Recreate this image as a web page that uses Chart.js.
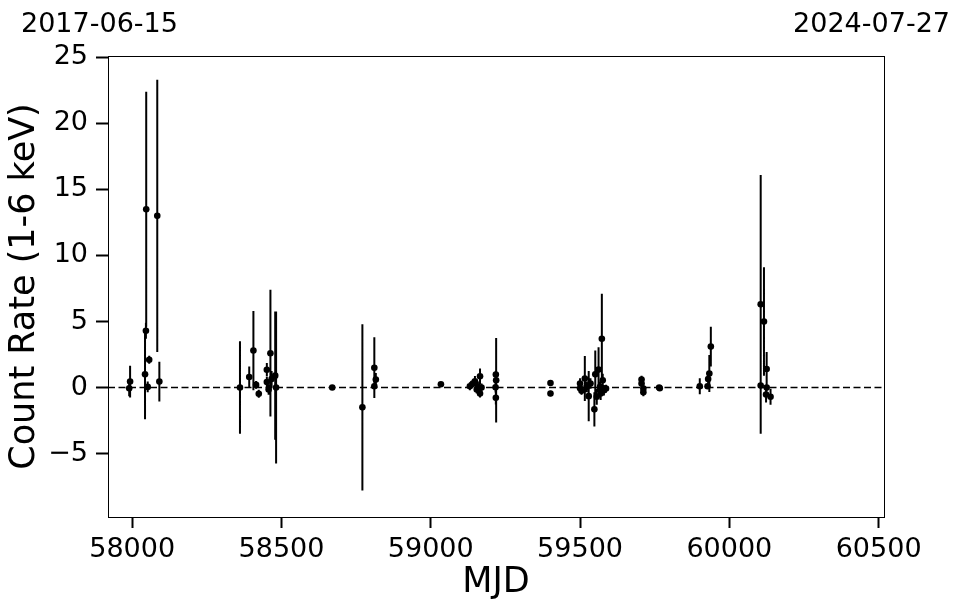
<!DOCTYPE html>
<html>
<head>
<meta charset="utf-8">
<script src="https://cdn.jsdelivr.net/npm/chart.js@4.4.1/dist/chart.umd.min.js"></script>
<style>
  html, body { margin: 0; padding: 0; background: #fff; }
  #wrap { position: relative; width: 962px; height: 613px; }
  .date { position: absolute; top: 9px; font: 27px 'DejaVu Sans'; line-height: 27px; color: #000; white-space: nowrap; }
</style>
</head>
<body>
<div id="wrap">
  <canvas id="lc" width="962" height="613"></canvas>
  <div class="date" style="left:21px">2017-06-15</div>
  <div class="date" style="right:12px">2024-07-27</div>
</div>
<script>
// light curve points: MJD, count rate (1-6 keV), 1-sigma error
const MJD = [
    57990, 57993, 58043, 58046, 58047, 58052, 58057, 58084, 58091,
    58361, 58392, 58406, 58415, 58424, 58451, 58451, 58457, 58463, 58467, 58479, 58482,
    58670, 58771, 58811, 58811, 58816,
    59034, 59131, 59141, 59148, 59154, 59158, 59165, 59165, 59170,
    59217, 59218, 59219, 59218, 59401, 59401,
    59500, 59500, 59505, 59516, 59522, 59529, 59535, 59548, 59551, 59556,
    59562, 59567, 59569, 59573, 59576, 59580, 59587,
    59706, 59706, 59712, 59712, 59765, 59767,
    59901, 59927, 59929, 59933, 59938,
    60105, 60105, 60116, 60123, 60125, 60125, 60138
];
const RATE = [
    -0.05, 0.45, 1.0, 4.3, 13.5, 0.05, 2.1, 13.0, 0.45,
    0.0, 0.8, 2.8, 0.2, -0.47, 1.35, 0.42, -0.15, 2.6, 0.65, 0.9, 0.0,
    0.0, -1.5, 1.5, 0.1, 0.6,
    0.25, 0.1, 0.3, 0.48, -0.15, 0.05, 0.85, -0.45, 0.0,
    0.02, 0.98, 0.55, -0.78, 0.35, -0.45,
    0.3, -0.05, -0.25, 0.68, 0.05, -0.65, 0.3, -1.65, 1.0, -0.7,
    1.36, 0.05, -0.45, 3.7, 0.55, -0.2, -0.08,
    0.6, 0.3, -0.08, -0.35, 0.0, -0.05,
    0.1, 0.1, 0.65, 1.06, 3.1,
    6.3, 0.15, 5.0, -0.53, 1.4, 0.0, -0.7
];
const ERR = [
    0.6, 1.2, 3.4, 0.6, 8.9, 0.4, 0.3, 10.3, 1.5,
    3.5, 0.8, 3.0, 0.3, 0.3, 0.5, 0.4, 0.4, 4.8, 0.6, 4.85, 5.75,
    0.1, 6.3, 2.3, 0.3, 0.5,
    0.15, 0.3, 0.3, 0.4, 0.3, 0.4, 0.6, 0.3, 0.3,
    0.4, 0.3, 3.2, 0.5, 0.2, 0.2,
    0.4, 0.3, 0.3, 1.7, 0.4, 1.9, 0.4, 1.3, 1.8, 0.6,
    1.7, 0.4, 0.5, 3.4, 0.5, 0.4, 0.3,
    0.3, 0.3, 0.3, 0.3, 0.2, 0.2,
    0.6, 0.2, 0.3, 1.4, 1.5,
    9.8, 0.2, 4.1, 0.6, 1.3, 0.3, 0.6
];

// axis limits = 2017-06-15 and 2024-07-27 in MJD
const X_MIN = 57919;
const X_MAX = 60518;
const Y_MIN = -9.8;
const Y_MAX = 25.1;
const X_TICKS = [58000, 58500, 59000, 59500, 60000, 60500];
const Y_TICKS = [-5, 0, 5, 10, 15, 20, 25];

Chart.defaults.font.family = 'DejaVu Sans';
Chart.defaults.color = '#000';

// error bars as vertical segments, broken with null gaps
let barData = [];
MJD.forEach((m, i) => {
    barData.push({x: m, y: RATE[i] - ERR[i]});
    barData.push({x: m, y: RATE[i] + ERR[i]});
    barData.push({x: m, y: null});
});
let pointData = MJD.map((m, i) => ({x: m, y: RATE[i]}));

const framePlugin = {
    id: 'frame',
    afterDraw(chart) {
        const a = chart.chartArea;
        const ctx = chart.ctx;
        ctx.save();
        ctx.strokeStyle = '#000';
        ctx.lineWidth = 1;
        ctx.strokeRect(a.left + 0.5, a.top + 0.5, a.right - a.left, a.bottom - a.top);
        ctx.restore();
    }
};

function tickFmt(v) {
    return v < 0 ? '\u2212' + Math.abs(v) : String(v);
}

new Chart(document.getElementById('lc'), {
    type: 'scatter',
    data: {
        datasets: [
            {
                type: 'line',
                data: barData,
                borderColor: '#000',
                borderWidth: 2,
                pointRadius: 0,
                spanGaps: false,
                fill: false
            },
            {
                type: 'line',
                data: [{x: X_MIN, y: 0}, {x: X_MAX, y: 0}],
                borderColor: '#000',
                borderWidth: 1.5,
                borderDash: [7, 3.5],
                pointRadius: 0,
                fill: false
            },
            {
                data: pointData,
                backgroundColor: '#000',
                borderColor: '#000',
                pointRadius: 3.3,
                borderWidth: 0
            }
        ]
    },
    options: {
        responsive: false,
        animation: false,
        devicePixelRatio: 1,
        layout: {padding: {left: 0, top: 56, right: 78, bottom: 0}},
        plugins: {legend: {display: false}, tooltip: {enabled: false}},
        scales: {
            x: {
                type: 'linear',
                min: X_MIN,
                max: X_MAX,
                afterBuildTicks: s => { s.ticks = X_TICKS.map(v => ({value: v})); },
                afterFit: s => { s.height = 96; },
                grid: {drawOnChartArea: false, drawTicks: true, tickLength: 11, tickWidth: 2, tickColor: '#000'},
                border: {display: true, color: '#000', width: 1},
                ticks: {font: {size: 27}, padding: 6, maxRotation: 0, callback: tickFmt},
                title: {display: true, text: 'MJD', font: {size: 35}, padding: {top: 0, bottom: 9}}
            },
            y: {
                type: 'linear',
                min: Y_MIN,
                max: Y_MAX,
                afterBuildTicks: s => { s.ticks = Y_TICKS.map(v => ({value: v})); },
                afterFit: s => { s.width = 108; },
                grid: {drawOnChartArea: false, drawTicks: true, tickLength: 12, tickWidth: 2, tickColor: '#000'},
                border: {display: true, color: '#000', width: 1},
                ticks: {font: {size: 27}, padding: 8, callback: tickFmt},
                title: {display: true, text: 'Count Rate (1-6 keV)', font: {size: 35}, padding: {top: 4, bottom: 0}}
            }
        }
    },
    plugins: [framePlugin]
});
</script>
</body>
</html>
